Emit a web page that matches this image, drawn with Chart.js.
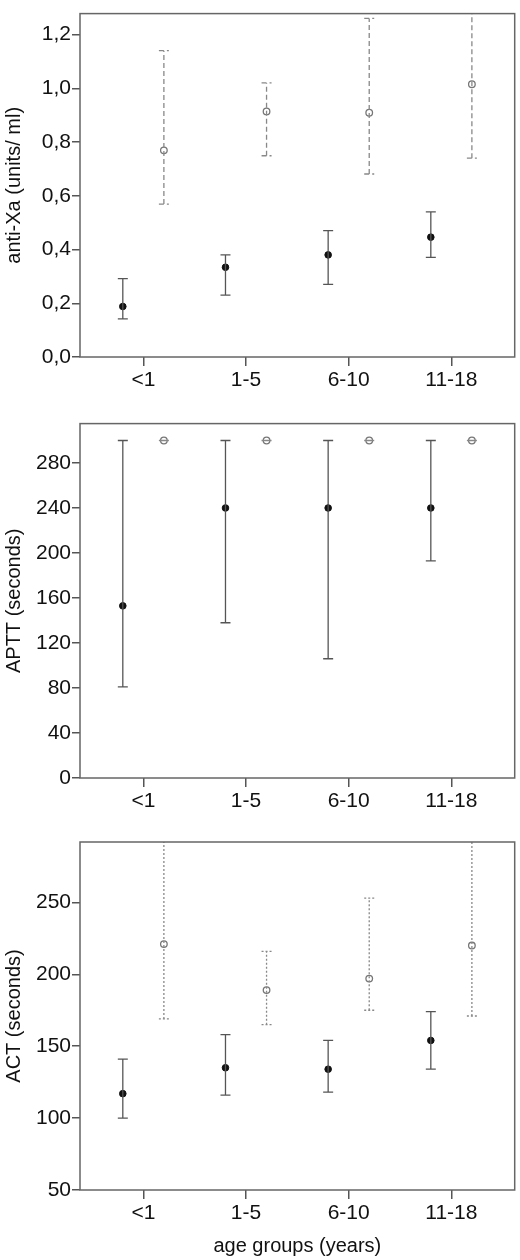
<!DOCTYPE html>
<html lang="en">
<head>
  <meta charset="UTF-8" />
  <title>Anticoagulation by age group</title>
  <script src="https://cdn.jsdelivr.net/npm/chart.js"></script>
  <style>
    body { margin: 0; background: #fff; }
    .panel { position: absolute; left: 0; width: 520px; }
  </style>
</head>
<body>
<div class="panel" style="top:0;height:410px"><canvas id="c1"></canvas></div>
<div class="panel" style="top:410px;height:410px"><canvas id="c2"></canvas></div>
<div class="panel" style="top:820px;height:440px"><canvas id="c3"></canvas></div>
<script>
  const ageGroups = ["<1", "1-5", "6-10", "11-18"];

  // anti-Xa (units/ml)
  const xaBlackMean = [0.188, 0.334, 0.380, 0.446];
  const xaBlackLow = [0.142, 0.230, 0.270, 0.371];
  const xaBlackHigh = [0.292, 0.380, 0.470, 0.540];
  const xaGreyMean = [0.769, 0.914, 0.909, 1.015];
  const xaGreyLow = [0.569, 0.749, 0.681, 0.740];
  const xaGreyHigh = [1.140, 1.020, 1.260, 1.300];

  // APTT (seconds)
  const apttBlackMean = [153, 240, 240, 240];
  const apttBlackLow = [81, 138, 106, 193];
  const apttBlackHigh = [300, 300, 300, 300];
  const apttGreyMean = [300, 300, 300, 300];
  const apttGreyLow = [300, 300, 300, 300];
  const apttGreyHigh = [300, 300, 300, 300];

  // ACT (seconds)
  const actBlackMean = [117, 135, 134, 154];
  const actBlackLow = [100, 116, 118, 134];
  const actBlackHigh = [141, 158, 154, 174];
  const actGreyMean = [221, 189, 197, 220];
  const actGreyLow = [169, 165, 175, 171];
  const actGreyHigh = [310, 216, 253, 310];

  const OFFSET = 0.2;
  const FONT = "'Liberation Sans', Arial, sans-serif";

  const errorBars = {
    id: "errorBars",
    afterDatasetsDraw(chart) {
      const ctx = chart.ctx;
      const xs = chart.scales.x, ys = chart.scales.y;
      const a = chart.chartArea;
      ctx.save();
      ctx.beginPath();
      ctx.rect(a.left, a.top, a.right - a.left, a.bottom - a.top);
      ctx.clip();
      chart.data.datasets.forEach((ds) => {
        ds.data.forEach((p) => {
          const x = xs.getPixelForValue(p.x);
          const y1 = ys.getPixelForValue(p.low);
          const y2 = ys.getPixelForValue(p.high);
          ctx.strokeStyle = ds.barColor;
          ctx.lineWidth = 1.3;
          ctx.setLineDash(ds.dash);
          ctx.beginPath();
          ctx.moveTo(x, y1); ctx.lineTo(x, y2);
          ctx.moveTo(x - 5, y1); ctx.lineTo(x + 5, y1);
          ctx.moveTo(x - 5, y2); ctx.lineTo(x + 5, y2);
          ctx.stroke();
        });
      });
      ctx.restore();
      ctx.save();
      ctx.strokeStyle = "#666";
      ctx.lineWidth = 1.5;
      ctx.strokeRect(a.left, a.top, a.right - a.left, a.bottom - a.top);
      ctx.restore();
    }
  };

  function points(mean, low, high, shift) {
    return mean.map((m, i) => ({ x: i + shift, y: m, low: low[i], high: high[i] }));
  }

  function makeChart(id, opt) {
    new Chart(document.getElementById(id), {
      type: "scatter",
      data: {
        datasets: [
          {
            data: points(opt.bm, opt.bl, opt.bh, -OFFSET),
            pointRadius: 3.3, pointBackgroundColor: "#111", pointBorderColor: "#111",
            barColor: "#555", dash: []
          },
          {
            data: points(opt.gm, opt.gl, opt.gh, OFFSET),
            pointRadius: 3.3, pointBackgroundColor: "#fff", pointBorderColor: "#777",
            pointBorderWidth: 1.3, barColor: "#888", dash: opt.dash
          }
        ]
      },
      options: {
        responsive: true, maintainAspectRatio: false, animation: false,
        layout: { padding: { top: opt.top, right: 3, left: 0, bottom: 0 } },
        plugins: { legend: { display: false }, tooltip: { enabled: false } },
        scales: {
          x: {
            type: "linear", min: -0.617, max: 3.617,
            afterBuildTicks: (s) => { s.ticks = ageGroups.map((_, i) => ({ value: i })); },
            afterFit: (s) => { s.height = opt.xh; },
            ticks: { callback: (v) => ageGroups[v], color: "#111", font: { family: FONT, size: 21 }, padding: 2 },
            grid: { drawOnChartArea: false, tickLength: 9, color: "#555", lineWidth: 1.5 },
            border: { display: false },
            title: { display: !!opt.xTitle, text: opt.xTitle, color: "#111", font: { family: FONT, size: 20 }, padding: { top: 0, bottom: 2 } }
          },
          y: {
            min: opt.min, max: opt.max,
            afterBuildTicks: (s) => { s.ticks = opt.ticks.map((v) => ({ value: v })); },
            afterFit: (s) => { s.width = 80; },
            ticks: { callback: opt.fmt, color: "#111", font: { family: FONT, size: 21 }, padding: 1 },
            grid: { drawOnChartArea: false, tickLength: 8, color: "#555", lineWidth: 1.5 },
            border: { display: false },
            title: { display: true, text: opt.yTitle, color: "#111", font: { family: FONT, size: 20 }, padding: 2 }
          }
        }
      },
      plugins: [errorBars]
    });
  }

  makeChart("c1", {
    bm: xaBlackMean, bl: xaBlackLow, bh: xaBlackHigh,
    gm: xaGreyMean, gl: xaGreyLow, gh: xaGreyHigh, dash: [5, 3],
    min: 0, max: 1.278, ticks: [0, 0.2, 0.4, 0.6, 0.8, 1.0, 1.2],
    fmt: (v) => v.toFixed(1).replace(".", ","), yTitle: "anti-Xa (units/ ml)",
    top: 2, xh: 53
  });
  makeChart("c2", {
    bm: apttBlackMean, bl: apttBlackLow, bh: apttBlackHigh,
    gm: apttGreyMean, gl: apttGreyLow, gh: apttGreyHigh, dash: [],
    min: 0, max: 315, ticks: [0, 40, 80, 120, 160, 200, 240, 280],
    fmt: (v) => v, yTitle: "APTT (seconds)",
    top: 7, xh: 42
  });
  makeChart("c3", {
    bm: actBlackMean, bl: actBlackLow, bh: actBlackHigh,
    gm: actGreyMean, gl: actGreyLow, gh: actGreyHigh, dash: [2, 2],
    min: 50, max: 292, ticks: [50, 100, 150, 200, 250],
    fmt: (v) => v, yTitle: "ACT (seconds)", xTitle: "age groups (years)",
    top: 22, xh: 70
  });
</script>
</body>
</html>
